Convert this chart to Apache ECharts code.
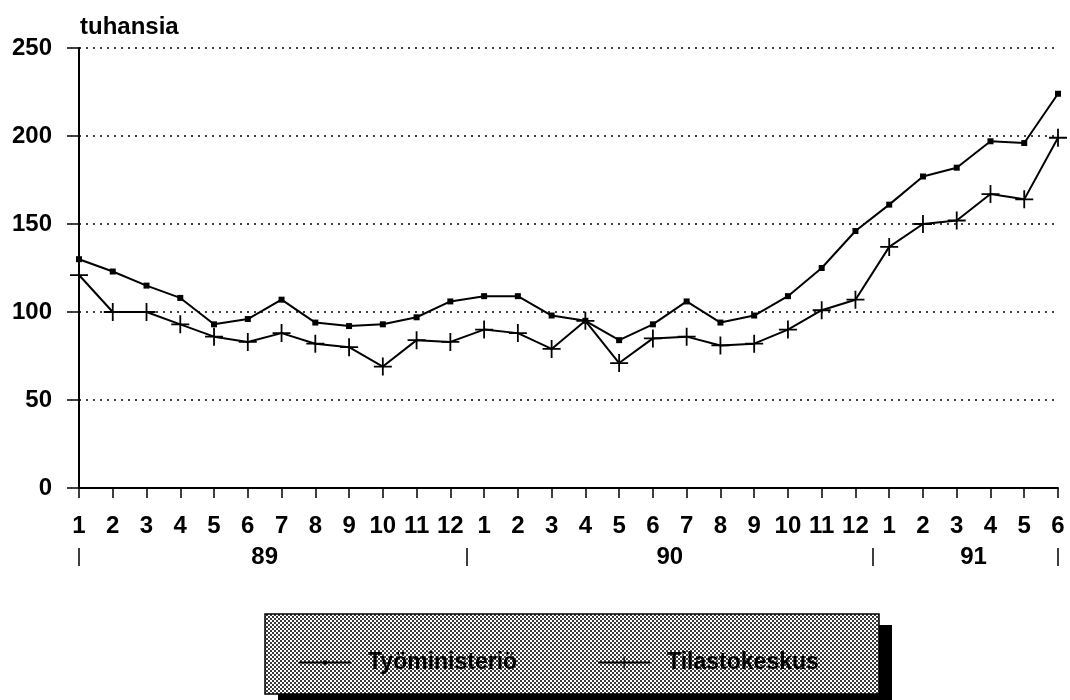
<!DOCTYPE html>
<html>
<head>
<meta charset="utf-8">
<script src="https://cdn.jsdelivr.net/npm/echarts@6/dist/echarts.min.js"></script>
<style>
  html, body { margin: 0; padding: 0; background: #fff; }
  #chart { width: 1070px; height: 700px; }
</style>
</head>
<body>
<div id="chart"></div>
<script>
// kuukaudet 1/89 - 6/91
const years = ['89', '90', '91'];
const yearMonths = [12, 12, 6];
const months = [];
yearMonths.forEach(function (n) {
  for (let m = 1; m <= n; m++) months.push(String(m));
});

// tuhansia
const tyoministerio = [130, 123, 115, 108, 93, 96, 107, 94, 92, 93, 97, 106,
  109, 109, 98, 95, 84, 93, 106, 94, 98, 109, 125, 146,
  161, 177, 182, 197, 196, 224];
const tilastokeskus = [121, 100, 100, 93, 86, 83, 88, 82, 80, 69, 84, 83,
  90, 88, 79, 95, 71, 85, 86, 81, 82, 90, 101, 107,
  137, 150, 152, 167, 164, 199];

const yTicks = [0, 50, 100, 150, 200, 250];

// vuosirivin erottimet ja keskikohdat
let yearSeps = [0];
let yearCenters = [];
let start = 0;
yearMonths.forEach(function (n, i) {
  yearCenters.push(start + (n - 1) / 2);
  start += n;
  yearSeps.push(i < yearMonths.length - 1 ? start - 0.5 : start - 1);
});

// rasterikuvio selitelaatikkoon
function dotPattern() {
  let c = document.createElement('canvas');
  c.width = 4; c.height = 4;
  let ctx = c.getContext('2d');
  ctx.fillStyle = '#fff';
  ctx.fillRect(0, 0, 4, 4);
  ctx.fillStyle = '#3a3a3a';
  ctx.fillRect(0, 0, 2, 2);
  ctx.fillRect(2, 2, 2, 2);
  return { image: c, repeat: 'repeat' };
}

const font = 'Liberation Sans, Arial, sans-serif';
// pieni neliö isossa rajauslaatikossa -> selitteessä pienempi piste
const squarePath = 'path://M0,0M15,15M5,5H10V10H5Z';
const plusPath = 'path://M9,0H11V9H20V11H11V20H9V11H0V9H9Z';

let drawCharts = echarts.init(document.getElementById('chart'));
let option = {
  animation: false,
  textStyle: { fontFamily: font, color: '#000' },
  grid: { left: 79, right: 12, top: 48, bottom: 212 },
  graphic: [
    { type: 'rect', z: 0, shape: { x: 278, y: 625, width: 614, height: 80 }, style: { fill: '#000' } },
    { type: 'rect', z: 1, shape: { x: 265, y: 614, width: 614, height: 80 },
      style: { fill: dotPattern(), stroke: '#000', lineWidth: 1.5 } }
  ],
  legend: {
    left: 293,
    top: 646,
    z: 10,
    itemWidth: 52,
    itemHeight: 15,
    itemGap: 80,
    textStyle: { fontSize: 23, fontWeight: 'bold', color: '#000', padding: [0, 0, 0, 12] },
    data: ['Työministeriö', 'Tilastokeskus']
  },
  xAxis: [
    {
      type: 'category',
      boundaryGap: false,
      data: months,
      axisLine: { lineStyle: { color: '#000', width: 2 } },
      axisTick: { alignWithLabel: true, interval: 0, length: 10, lineStyle: { color: '#000', width: 1.5 } },
      axisLabel: { interval: 0, margin: 26, fontSize: 24, fontWeight: 'bold', color: '#000' }
    },
    {
      type: 'value',
      position: 'bottom',
      offset: 60,
      min: 0,
      max: months.length - 1,
      axisLine: { show: false },
      axisTick: { show: true, customValues: yearSeps, length: 18, lineStyle: { color: '#000', width: 1.5 } },
      axisLabel: {
        customValues: yearCenters,
        margin: -3,
        fontSize: 24,
        fontWeight: 'bold',
        color: '#000',
        formatter: function (v) {
          let i = yearCenters.indexOf(v);
          return i >= 0 ? years[i] : '';
        }
      },
      splitLine: { show: false }
    }
  ],
  yAxis: {
    type: 'value',
    min: yTicks[0],
    max: yTicks[yTicks.length - 1],
    interval: 50,
    name: 'tuhansia',
    nameLocation: 'end',
    nameGap: 9,
    nameTextStyle: { fontSize: 24, fontWeight: 'bold', color: '#000', align: 'left', padding: [0, 0, 0, 1] },
    axisLine: { show: true, lineStyle: { color: '#000', width: 2 } },
    axisTick: { show: true, length: 12, lineStyle: { color: '#000', width: 1.5 } },
    axisLabel: { fontSize: 24, fontWeight: 'bold', color: '#000', margin: 27 },
    splitLine: { lineStyle: { color: '#000', width: 1.5, type: [2, 5] } }
  },
  series: [
    {
      name: 'Työministeriö',
      type: 'line',
      data: tyoministerio,
      symbol: squarePath,
      symbolSize: 18,
      lineStyle: { color: '#000', width: 2 },
      itemStyle: { color: '#000' },
      z: 3
    },
    {
      name: 'Tilastokeskus',
      type: 'line',
      data: tilastokeskus,
      symbol: plusPath,
      symbolSize: 18,
      lineStyle: { color: '#000', width: 2 },
      itemStyle: { color: '#000' },
      z: 3
    }
  ]
};
drawCharts.setOption(option);
</script>
</body>
</html>
